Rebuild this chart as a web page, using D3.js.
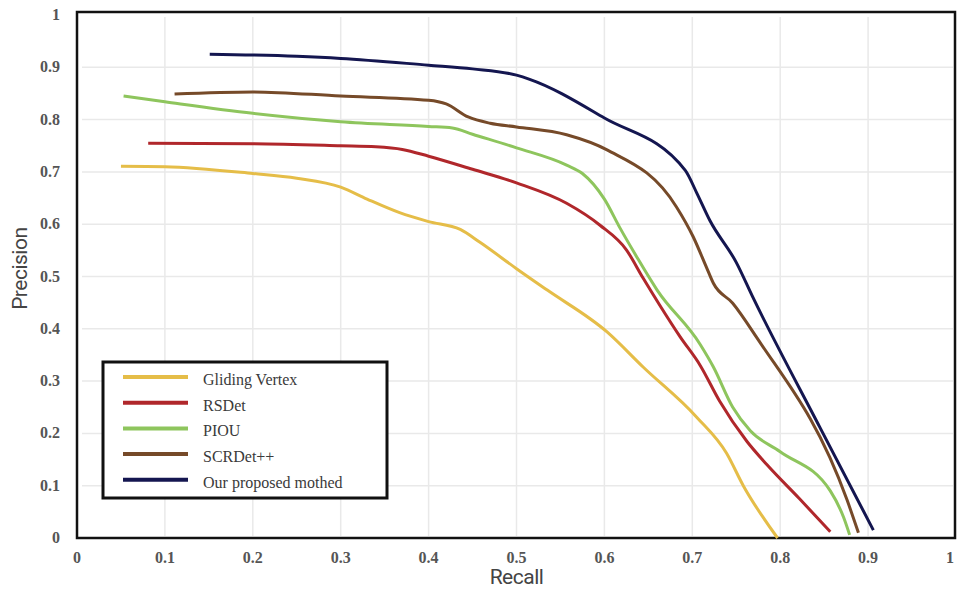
<!DOCTYPE html>
<html>
<head>
<meta charset="utf-8">
<script src="https://cdn.jsdelivr.net/npm/d3@7.9.0/dist/d3.min.js"></script>
<style>
  body { margin: 0; background: #fff; }
  svg { display: block; }
  .tick-label { font-family: "Liberation Serif", serif; font-weight: bold; font-size: 16px; fill: #555; }
  .axis-title { font-family: Roboto, "Open Sans", sans-serif; font-size: 21px; fill: #444; }
  .legend-text { font-family: "Liberation Serif", serif; font-size: 16px; fill: #3a3a3a; }
</style>
</head>
<body>
<svg id="chart" width="958" height="591"></svg>
<script>
// tick values
const xTicks = [0, 0.1, 0.2, 0.3, 0.4, 0.5, 0.6, 0.7, 0.8, 0.9, 1];
const yTicks = [0, 0.1, 0.2, 0.3, 0.4, 0.5, 0.6, 0.7, 0.8, 0.9, 1];

// series names and colours
const seriesNames = ['Gliding Vertex', 'RSDet', 'PIOU', 'SCRDet++', 'Our proposed mothed'];
const seriesColors = ['#E5BD48', '#B0272B', '#8EC55D', '#764A29', '#141650'];

// [recall, precision]
const glidingVertex = [
  [0.05, 0.711], [0.1, 0.71], [0.2, 0.697], [0.25, 0.688], [0.3, 0.671], [0.33, 0.648],
  [0.367, 0.622], [0.4, 0.605], [0.436, 0.59], [0.458, 0.566], [0.5, 0.515], [0.535, 0.474],
  [0.603, 0.394], [0.644, 0.327], [0.705, 0.231], [0.739, 0.162], [0.758, 0.1], [0.797, 0.0]
];
const rsdet = [
  [0.081, 0.755], [0.2, 0.754], [0.3, 0.75], [0.34, 0.748], [0.37, 0.743], [0.4, 0.73],
  [0.45, 0.705], [0.5, 0.679], [0.557, 0.64], [0.595, 0.598], [0.625, 0.551], [0.644, 0.497],
  [0.663, 0.445], [0.686, 0.385], [0.709, 0.33], [0.731, 0.262], [0.762, 0.185], [0.785, 0.14],
  [0.822, 0.075], [0.857, 0.012]
];
const piou = [
  [0.053, 0.845], [0.1, 0.834], [0.2, 0.812], [0.3, 0.796], [0.4, 0.787], [0.427, 0.784],
  [0.45, 0.772], [0.5, 0.746], [0.557, 0.713], [0.575, 0.697], [0.6, 0.648], [0.618, 0.592],
  [0.637, 0.537], [0.66, 0.474], [0.709, 0.37], [0.724, 0.327], [0.746, 0.25], [0.766, 0.205],
  [0.8, 0.165], [0.857, 0.09], [0.872, 0.04], [0.879, 0.006]
];
const scrdet = [
  [0.111, 0.849], [0.2, 0.853], [0.3, 0.845], [0.4, 0.837], [0.42, 0.83], [0.445, 0.805],
  [0.47, 0.793], [0.5, 0.786], [0.557, 0.771], [0.603, 0.742], [0.682, 0.633], [0.701, 0.576],
  [0.716, 0.518], [0.724, 0.487], [0.746, 0.449], [0.773, 0.384], [0.876, 0.073], [0.889, 0.01]
];
const ourMethod = [
  [0.151, 0.925], [0.25, 0.921], [0.3, 0.917], [0.4, 0.904], [0.45, 0.897], [0.5, 0.885],
  [0.515, 0.877], [0.6, 0.803], [0.692, 0.703], [0.705, 0.66], [0.72, 0.607], [0.75, 0.527],
  [0.769, 0.46], [0.845, 0.212], [0.906, 0.015]
];
const seriesData = [glidingVertex, rsdet, piou, scrdet, ourMethod];

const svg = d3.select('#chart');
const margin = { left: 77, right: 2, top: 15, bottom: 53 };
const width = 958, height = 591;

const x = d3.scaleLinear().domain([0, 1]).range([margin.left, width - margin.right]);
const y = d3.scaleLinear().domain([0, 1]).range([height - margin.bottom, margin.top]);

// grid
svg.append('g')
  .selectAll('line.vg')
  .data(xTicks.slice(1, -1))
  .join('line')
  .attr('x1', (d) => x(d)).attr('x2', (d) => x(d))
  .attr('y1', y(1) + 2).attr('y2', y(0) - 2)
  .attr('stroke', '#e9e9e9').attr('stroke-width', 1.5);

svg.append('g')
  .selectAll('line.hg')
  .data(yTicks.slice(1, -1))
  .join('line')
  .attr('x1', x(0) + 5).attr('x2', x(1) - 3)
  .attr('y1', (d) => y(d)).attr('y2', (d) => y(d))
  .attr('stroke', '#e9e9e9').attr('stroke-width', 1.5);

// frame
svg.append('rect')
  .attr('x', x(0)).attr('y', y(1) - 3)
  .attr('width', x(1) - x(0) - 1).attr('height', y(0) - y(1) + 3)
  .attr('fill', 'none').attr('stroke', '#111').attr('stroke-width', 2.5);

// tick labels
svg.append('g')
  .selectAll('text')
  .data(xTicks)
  .join('text')
  .attr('class', 'tick-label')
  .attr('x', (d) => Math.min(x(d), width - 8))
  .attr('y', y(0) + 25)
  .attr('text-anchor', 'middle')
  .text((d) => d3.format('~g')(d));

svg.append('g')
  .selectAll('text')
  .data(yTicks)
  .join('text')
  .attr('class', 'tick-label')
  .attr('x', x(0) - 17)
  .attr('y', (d) => y(d) + 5)
  .attr('text-anchor', 'end')
  .text((d) => d3.format('~g')(d));

// axis titles
svg.append('text')
  .attr('class', 'axis-title')
  .attr('x', x(0.5))
  .attr('y', 584)
  .attr('text-anchor', 'middle')
  .attr('letter-spacing', '-0.5')
  .text('Recall');

svg.append('text')
  .attr('class', 'axis-title')
  .attr('transform', `translate(27, ${y(0.515)}) rotate(-90)`)
  .attr('text-anchor', 'middle')
  .attr('letter-spacing', '-0.5')
  .text('Precision');

// curves
const line = d3.line()
  .x((d) => x(d[0]))
  .y((d) => y(d[1]))
  .curve(d3.curveMonotoneX);

seriesData.forEach((data, idx) => {
  svg.append('path')
    .datum(data)
    .attr('d', line)
    .attr('fill', 'none')
    .attr('stroke', seriesColors[idx])
    .attr('stroke-width', 3)
    .attr('stroke-linejoin', 'round');
});

// legend
const legend = svg.append('g').attr('transform', 'translate(103, 362)');
legend.append('rect')
  .attr('width', 284).attr('height', 136)
  .attr('fill', '#fff').attr('stroke', '#111').attr('stroke-width', 3);

seriesNames.forEach((name, idx) => {
  let rowY = 15 + idx * 25.7;
  legend.append('line')
    .attr('x1', 20).attr('x2', 85)
    .attr('y1', rowY).attr('y2', rowY)
    .attr('stroke', seriesColors[idx]).attr('stroke-width', 4);
  legend.append('text')
    .attr('class', 'legend-text')
    .attr('x', 100)
    .attr('y', rowY + 8)
    .text(name);
});
</script>
</body>
</html>
